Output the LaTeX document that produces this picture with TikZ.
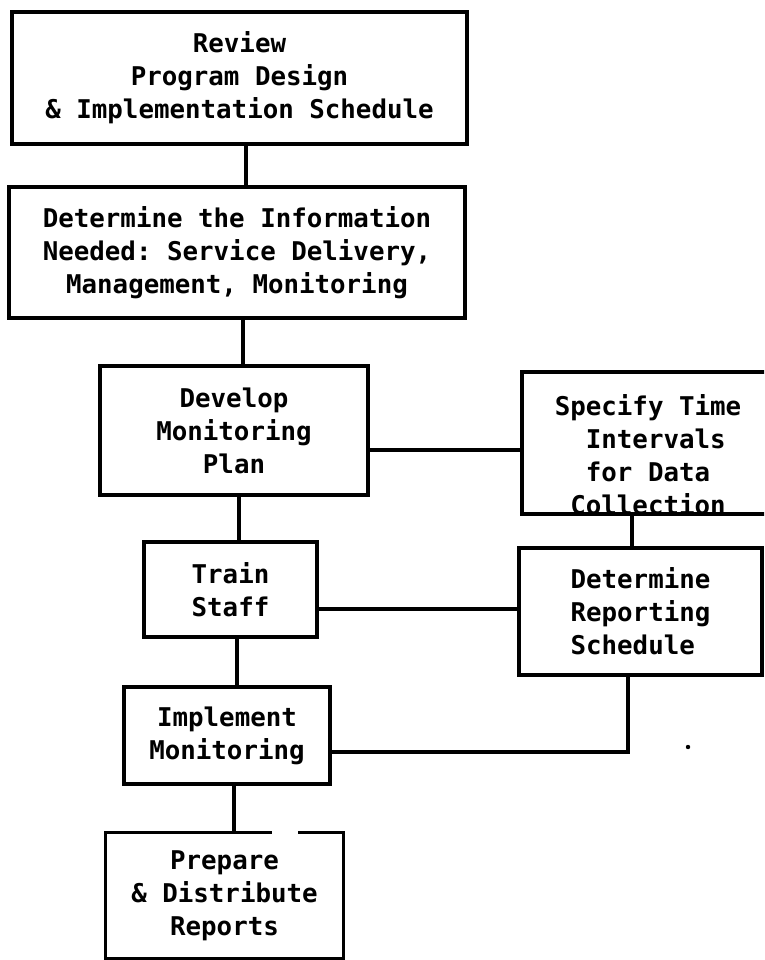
\documentclass[tikz,border=0pt]{standalone}
\usepackage{fontspec}
\setmonofont{DejaVu Sans Mono}
\begin{document}
\begin{tikzpicture}[x=1pt,y=-1pt,
  box/.style={draw, line width=3.3pt, inner sep=0pt, align=center,
    font=\ttfamily\bfseries\fontsize{25.8pt}{33pt}\selectfont},
  plain/.style={inner sep=0pt,
    font=\ttfamily\bfseries\fontsize{25.8pt}{33pt}\selectfont},
  wire/.style={line width=3.6pt}]
\useasboundingbox (0,0) rectangle (764,960);
\clip (0,0) rectangle (764,960);

% steps of the main column
\node[box, minimum width=455pt, minimum height=132pt] (b1) at (239.5,78)
  {Review\\Program Design\\\& Implementation Schedule};
\node[box, minimum width=456pt, minimum height=131pt] (b2) at (237,252.5)
  {Determine the Information\\Needed: Service Delivery,\\Management, Monitoring};
\node[box, minimum width=268pt, minimum height=129pt] (b3) at (234,430.5)
  {Develop\\Monitoring\\Plan};
\node[box, minimum width=173pt, minimum height=95pt] (b5) at (230.5,589.5)
  {Train\\Staff};
\node[box, minimum width=206pt, minimum height=97pt] (b7) at (227,735.5)
  {Implement\\Monitoring};
% last step: outline drawn by hand, with a break in its top edge
\node[plain, align=center, minimum width=237pt, minimum height=125pt] (b8) at (224.5,895.5)
  {Prepare\\\& Distribute\\Reports};
\draw[line width=3.3pt]
  ([xshift=166pt]b8.north west) -- (b8.north west) -- (b8.south west)
  -- (b8.south east) -- (b8.north east) -- ([xshift=192pt]b8.north west);

% side column
\node[draw, line width=3.3pt, inner sep=0pt, minimum width=253pt, minimum height=142pt]
  (b4) at (648.5,443) {};
\node[plain, align=left] (t4) at (648,455)
  {Specify Time\\\phantom{XX}Intervals\\\phantom{XX}for Data\\\phantom{X}Collection};
\node[box, align=left, minimum width=243pt, minimum height=127pt] (b6) at (640.5,611.5)
  {Determine\\Reporting\\Schedule};

% connectors
\draw[wire] ([xshift=6.5pt]b1.south) -- ([xshift=9pt]b2.north);
\draw[wire] ([xshift=6pt]b2.south) -- ([xshift=9pt]b3.north);
\draw[wire] ([xshift=5pt]b3.south) -- ([xshift=8.5pt]b5.north);
\draw[wire] ([xshift=6.5pt]b5.south) -- ([xshift=10pt]b7.north);
\draw[wire] ([xshift=7pt]b7.south) -- ([xshift=9.5pt]b8.north);
\draw[wire] ([yshift=-19.5pt]b3.east) -- ([yshift=-7pt]b4.west);
\draw[wire] ([xshift=-16.5pt]b4.south) -- ([xshift=-8.5pt]b6.north);
\draw[wire] ([yshift=-19.5pt]b5.east) -- ([yshift=2.5pt]b6.west);
\draw[wire] ([xshift=-12.5pt]b6.south) |- ([yshift=-16.5pt]b7.east);

% stray mark
\fill (688,747) circle (2.2pt);
\end{tikzpicture}
\end{document}
